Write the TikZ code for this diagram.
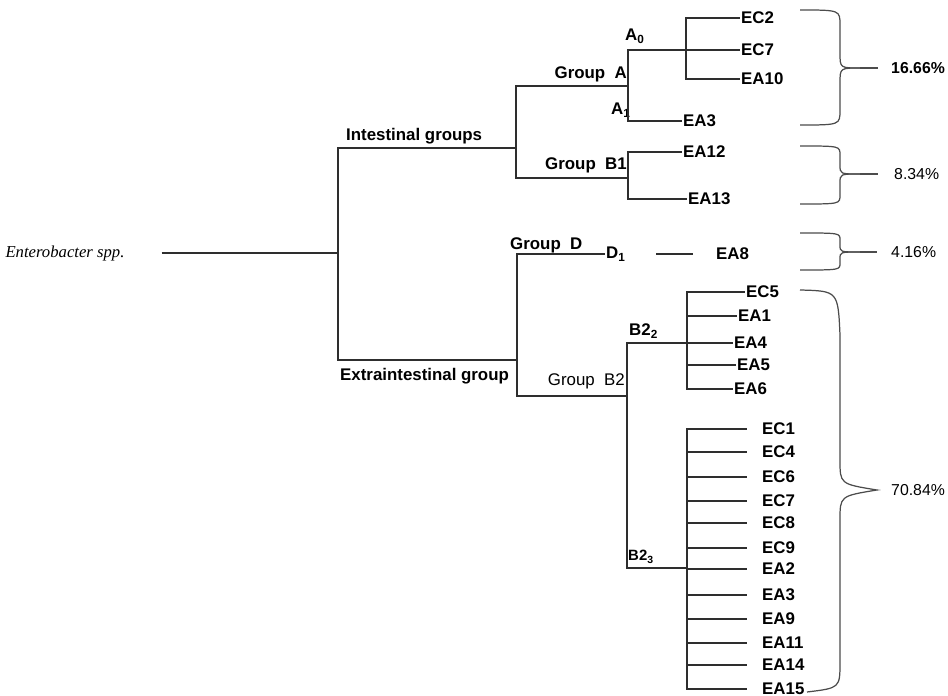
\documentclass[tikz,border=0pt]{standalone}
\usepackage{fontspec}
\setmainfont{Liberation Sans}
\newfontfamily\latinname{Liberation Serif}
\usepackage{tikz}
\usetikzlibrary{calc}
\colorlet{treegray}{black!82}
\tikzstyle{branch}=[treegray,line width=0.7pt]
\tikzstyle{curly}=[black!70,line width=0.7pt]
\tikzstyle{leaf}=[anchor=west,inner sep=0.5pt,font=\fontsize{9.6}{10}\selectfont\bfseries]
\tikzstyle{grp}=[inner sep=0.5pt,font=\fontsize{9.6}{10}\selectfont\bfseries]
\tikzstyle{pct}=[anchor=west,inner sep=0.5pt,font=\fontsize{9}{10}\selectfont]
\tikzstyle{gap}=[shorten >=0.28cm]
% curly bracket: top, tip, bottom, corner
\newcommand{\pctbrace}[4]{%
  \draw[curly] (800,#1) .. controls (840,#1) .. (840,#1+#4) -- (840,#2-#4)
    .. controls (840,#2) .. (860,#2);
  \draw[curly] (860,#2) .. controls (840,#2) .. (840,#2+#4) -- (840,#3-#4)
    .. controls (840,#3) .. (800,#3);}

\begin{document}
\begin{tikzpicture}[x=0.02cm,y=-0.02cm]
    \useasboundingbox (0,0) rectangle (948,696);

    % tree
    \node[font=\latinname\itshape\fontsize{9.5}{11}\selectfont] (root) at (65,253) {Enterobacter spp.};
    \coordinate (n0) at (338,253);
    \coordinate (int) at (516,148);
    \coordinate (ext) at (517,360);
    \coordinate (gA) at (628,86);
    \coordinate (gB1) at (628,178);
    \coordinate (gB2) at (627,396);
    \coordinate (a0) at (686,50);
    \coordinate (b22) at (687,343);
    \coordinate (b23) at (687,568);

    \draw[branch,shorten <=0.62cm] (root.east) -- (n0);
    \draw[branch] (n0) |- (int);
    \draw[branch] (n0) |- (ext);
    \draw[branch] (int) |- (gA);
    \draw[branch] (int) |- (gB1);
    \draw[branch] (gA) |- (a0);
    \draw[branch] (gB2) |- (b22);
    \draw[branch] (gB2) |- (b23);
    \draw[branch] (ext) |- (gB2);

    \node[grp,anchor=south west] (intl) at (345,145) {Intestinal groups};
    \node[grp,anchor=west] (extl) at (339,376) {Extraintestinal group};
    \node[grp,anchor=east] (gAl) at (628,74) {Group\ \ A};
    \node[grp,anchor=east] (gB1l) at (628,165) {Group\ \ B1};
    \node[grp,anchor=west] (gDl) at (509,245) {Group\ \ D};
    \node[grp,anchor=east,font=\fontsize{9.6}{10}\selectfont] (gB2l) at (626,381) {Group\ \ B2};
    \node[grp] (a0l) at (635,36) {A\textsubscript{0}};
    \node[grp] (a1l) at (621,110) {A\textsubscript{1}};
    \node[grp] (d1) at (616,254) {D\textsubscript{1}};
    \node[grp,anchor=west] (b22l) at (628,331) {B2\textsubscript{2}};
    \node[grp,anchor=west,font=\fontsize{8.5}{9}\selectfont\bfseries] (b23l) at (627,557) {B2\textsubscript{3}};

    \draw[branch] (ext) |- (d1.west);

    % group A
    \node[leaf] (ec2) at (740,18) {EC2};
    \node[leaf] (ec7) at (740,50) {EC7};
    \node[leaf] (ea10) at (740,79) {EA10};
    \node[leaf] (ea3) at (682,121) {EA3};
    \draw[branch] (a0) |- (ec2.west);
    \draw[branch] (a0) -- (ec7.west);
    \draw[branch] (a0) |- (ea10.west);
    \draw[branch] (gA) |- (ea3.west);

    % group B1
    \node[leaf] (ea12) at (682,152) {EA12};
    \node[leaf] (ea13) at (687,199) {EA13};
    \draw[branch] (gB1) |- (ea12.west);
    \draw[branch] (gB1) |- (ea13.west);

    % group D
    \node[leaf] (ea8) at (715,254) {EA8};
    \draw[branch,shorten <=0.58cm,shorten >=0.44cm] (d1) -- (ea8);

    % group B2, B2_2
    \node[leaf] (ec5) at (745,292) {EC5};
    \node[leaf] (ea1) at (737,316) {EA1};
    \node[leaf] (ea4) at (733,343) {EA4};
    \node[leaf] (ea5) at (736,365) {EA5};
    \node[leaf] (ea6) at (733,389) {EA6};
    \draw[branch] (b22) |- (ec5.west);
    \draw[branch] (b22) |- (ea1.west);
    \draw[branch] (b22) -- (ea4.west);
    \draw[branch] (b22) |- (ea5.west);
    \draw[branch] (b22) |- (ea6.west);

    % group B2, B2_3
    \foreach \lab/\y in {EC1/429,EC4/452,EC6/477,EC7/501,EC9/548,EA2/569,EA3/595,EA9/619,EA11/643,EA14/665,EA15/689}{
        \node[leaf] (x\lab) at (761,\y) {\lab};
        \draw[branch,gap] (b23) |- (x\lab.west);
    }
    \node[leaf] (xEC8) at (761,523) {EC8};
    \draw[branch,line width=1.3pt,gap] (b23 |- xEC8) -- (xEC8.west);

    % percentages
    \pctbrace{10}{68}{125}{15}
    \pctbrace{146}{174}{204}{9}
    \pctbrace{233}{252}{270}{7}
    \draw[curly] (800,290) .. controls (838,291) .. (840,335) -- (840,460)
        .. controls (840,484) .. (877,490)
        .. controls (840,496) .. (840,520) -- (840,662)
        .. controls (840,688) .. (807,692);

    \coordinate (t1) at (860,68);
    \coordinate (t2) at (860,174);
    \coordinate (t3) at (860,252);
    \node[pct,font=\fontsize{9}{10}\selectfont\bfseries] (p1) at (890,68) {16.66\%};
    \node[pct] (p2) at (893,174) {8.34\%};
    \node[pct] (p3) at (890,252) {4.16\%};
    \node[pct] (p4) at (890,490) {70.84\%};
    \draw[curly,shorten >=0.24cm] (t1) -- (p1.west);
    \draw[curly,shorten >=0.3cm] (t2) -- (p2.west);
    \draw[curly,shorten >=0.26cm] (t3) -- (p3.west);

\end{tikzpicture}
\end{document}
